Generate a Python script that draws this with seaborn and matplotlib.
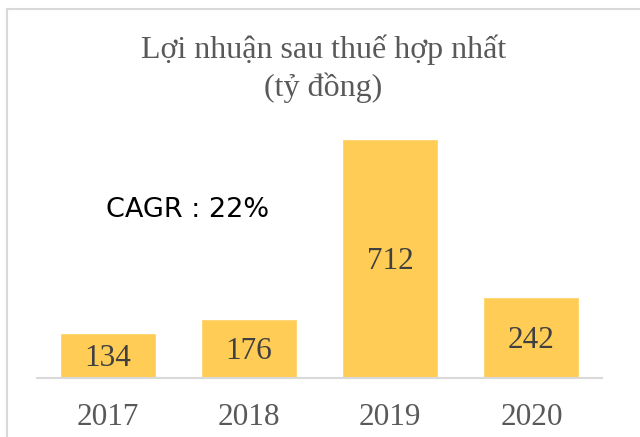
import matplotlib
matplotlib.use("Agg")
import matplotlib.pyplot as plt
import seaborn as sns
import pandas as pd
from matplotlib.patches import Rectangle

# data
years = ["2017", "2018", "2019", "2020"]
profit = [134, 176, 712, 242]

df = pd.DataFrame({"year": years, "profit": profit})

sns.set_theme(style="white")
plt.rcParams["font.family"] = ["Liberation Serif", "DejaVu Serif"]

fig = plt.figure(figsize=(6.4, 4.37), dpi=100)
ax = fig.add_axes([37 / 640, 1 - 378 / 437, 565 / 640, 268.6 / 437])

sns.barplot(data=df, x="year", y="profit", color="#FFCC55", saturation=1,
            width=0.68, ax=ax)

ax.set_ylim(0, 800)
ax.set_xlim(-0.5, 3.5)

# value labels in the middle of each bar
for i, v in enumerate(profit):
    ax.text(i, v / 2 - 8, str(v), ha="center", va="center", fontsize=22.5,
            color="#404040")

ax.set_xlabel("")
ax.set_ylabel("")
ax.set_yticks([])
ax.tick_params(axis="x", length=0, labelsize=22.5, colors="#595959", pad=18)
for s in ["top", "right", "left"]:
    ax.spines[s].set_visible(False)
ax.spines["bottom"].set_color("#D9D9D9")
ax.spines["bottom"].set_linewidth(1.5)

fig.text(0.505, 1 - 50 / 437, "Lợi nhuận sau thuế hợp nhất", ha="center",
         va="center", fontsize=23, color="#595959")
fig.text(0.505, 1 - 88 / 437, "(tỷ đồng)", ha="center", va="center",
         fontsize=23, color="#595959")

fig.text(106 / 640, 1 - 210 / 437, "CAGR : 22%", ha="left", va="center",
         fontsize=19.5, color="black", family=["DejaVu Sans"])

# outer chart border (partly cut off in the original)
fig.patches.append(Rectangle((7 / 640, -0.1), 1.2, 1.1 - 9 / 437,
                             transform=fig.transFigure, fill=False,
                             edgecolor="#D9D9D9", linewidth=1.5))

fig.savefig("out.png", dpi=100)
